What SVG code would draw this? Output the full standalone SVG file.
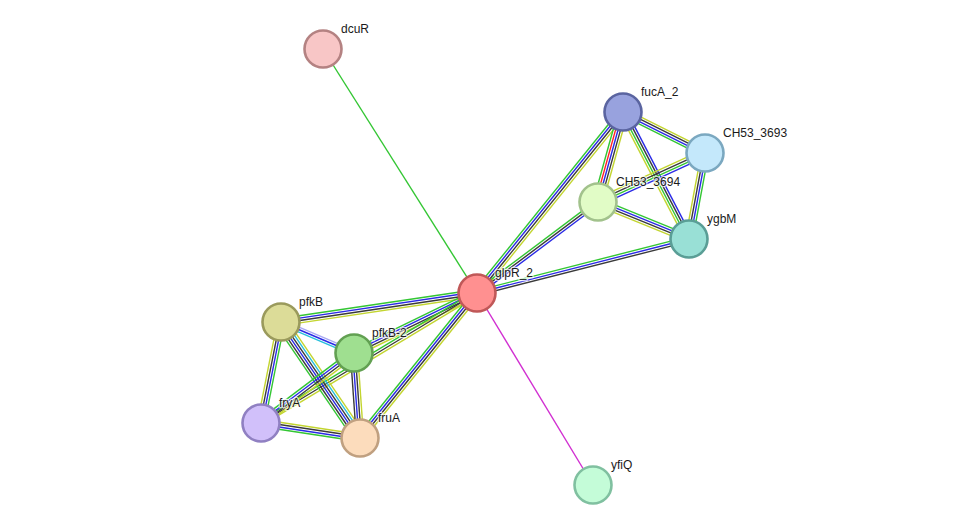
<svg xmlns="http://www.w3.org/2000/svg" width="975" height="530" viewBox="0 0 975 530">
<style>
line{stroke-width:1.4;fill:none}
.g{stroke:#33c633}.b{stroke:#2a2ae6}.k{stroke:#3a3a3a}.y{stroke:#c3d530}.r{stroke:#f22}.c{stroke:#27bfdc}.p{stroke:#a9a9f2}.m{stroke:#d12fd1}
circle{stroke-width:2.6}
text{font-family:"Liberation Sans",Arial,sans-serif;font-size:12px;fill:#1a1a1a;stroke:#fff;stroke-width:2.5;stroke-opacity:0.7;paint-order:stroke;stroke-linejoin:round}
</style>
<rect width="975" height="530" fill="#fff"/>
<g id="connectors">
<line class="g" x1="477" y1="293" x2="323" y2="49"/>
<line class="m" x1="477" y1="293" x2="593" y2="485"/>
<!-- glpR-fucA -->
<g transform="translate(477,293) rotate(-51.1)"><line class="g" x1="0" y1="-3.6" x2="232.5" y2="-3.6"/><line class="b" x1="0" y1="-1.2" x2="232.5" y2="-1.2"/><line class="k" x1="0" y1="1.2" x2="232.5" y2="1.2"/><line class="y" x1="0" y1="3.6" x2="232.5" y2="3.6"/></g>
<!-- glpR-C94 -->
<g transform="translate(477,293) rotate(-36.9)"><line class="g" x1="0" y1="-2.4" x2="151.4" y2="-2.4"/><line class="k" x1="0" y1="0" x2="151.4" y2="0"/><line class="b" x1="0" y1="2.4" x2="151.4" y2="2.4"/></g>
<!-- glpR-ygbM -->
<g transform="translate(477,293) rotate(-14.29)"><line class="g" x1="0" y1="-2.4" x2="218.8" y2="-2.4"/><line class="b" x1="0" y1="0" x2="218.8" y2="0"/><line class="k" x1="0" y1="2.4" x2="218.8" y2="2.4"/></g>
<!-- glpR-pfkB -->
<g transform="translate(477,293) rotate(171.58)"><line class="y" x1="0" y1="-3.6" x2="198.1" y2="-3.6"/><line class="k" x1="0" y1="-1.2" x2="198.1" y2="-1.2"/><line class="b" x1="0" y1="1.2" x2="198.1" y2="1.2"/><line class="g" x1="0" y1="3.6" x2="198.1" y2="3.6"/></g>
<!-- glpR-pfkB2 -->
<g transform="translate(477,293) rotate(154.0)"><line class="y" x1="0" y1="-3.6" x2="136.9" y2="-3.6"/><line class="k" x1="0" y1="-1.2" x2="136.9" y2="-1.2"/><line class="b" x1="0" y1="1.2" x2="136.9" y2="1.2"/><line class="g" x1="0" y1="3.6" x2="136.9" y2="3.6"/></g>
<!-- glpR-fryA -->
<g transform="translate(477,293) rotate(148.96)"><line class="y" x1="0" y1="-2.4" x2="252.1" y2="-2.4"/><line class="k" x1="0" y1="0" x2="252.1" y2="0"/><line class="g" x1="0" y1="2.4" x2="252.1" y2="2.4"/></g>
<!-- glpR-fruA -->
<g transform="translate(477,293) rotate(128.9)"><line class="y" x1="0" y1="-3.6" x2="186.3" y2="-3.6"/><line class="k" x1="0" y1="-1.2" x2="186.3" y2="-1.2"/><line class="b" x1="0" y1="1.2" x2="186.3" y2="1.2"/><line class="g" x1="0" y1="3.6" x2="186.3" y2="3.6"/></g>
<!-- fucA-C94 -->
<g transform="translate(623,112) rotate(105.5)"><line class="y" x1="0" y1="-4.8" x2="93.4" y2="-4.8"/><line class="k" x1="0" y1="-2.4" x2="93.4" y2="-2.4"/><line class="b" x1="0" y1="0" x2="93.4" y2="0"/><line class="r" x1="0" y1="2.4" x2="93.4" y2="2.4"/><line class="g" x1="0" y1="4.8" x2="93.4" y2="4.8"/></g>
<!-- fucA-C93 -->
<g transform="translate(623,112) rotate(26.57)"><line class="y" x1="0" y1="-3.6" x2="91.7" y2="-3.6"/><line class="k" x1="0" y1="-1.2" x2="91.7" y2="-1.2"/><line class="b" x1="0" y1="1.2" x2="91.7" y2="1.2"/><line class="g" x1="0" y1="3.6" x2="91.7" y2="3.6"/></g>
<!-- fucA-ygbM -->
<g transform="translate(623,112) rotate(62.54)"><line class="b" x1="0" y1="-3.6" x2="143.1" y2="-3.6"/><line class="k" x1="0" y1="-1.2" x2="143.1" y2="-1.2"/><line class="g" x1="0" y1="1.2" x2="143.1" y2="1.2"/><line class="y" x1="0" y1="3.6" x2="143.1" y2="3.6"/></g>
<!-- C94-C93 -->
<g transform="translate(598,202) rotate(-24.6)"><line class="y" x1="0" y1="-3.6" x2="117.7" y2="-3.6"/><line class="k" x1="0" y1="-1.2" x2="117.7" y2="-1.2"/><line class="g" x1="0" y1="1.2" x2="117.7" y2="1.2"/><line class="b" x1="0" y1="3.6" x2="117.7" y2="3.6"/></g>
<!-- C93-ygbM -->
<g transform="translate(705,153) rotate(100.5)"><line class="g" x1="0" y1="-3.6" x2="87.5" y2="-3.6"/><line class="b" x1="0" y1="-1.2" x2="87.5" y2="-1.2"/><line class="k" x1="0" y1="1.2" x2="87.5" y2="1.2"/><line class="y" x1="0" y1="3.6" x2="87.5" y2="3.6"/></g>
<!-- C94-ygbM -->
<g transform="translate(598,202) rotate(22.13)"><line class="g" x1="0" y1="-3.6" x2="98.2" y2="-3.6"/><line class="b" x1="0" y1="-1.2" x2="98.2" y2="-1.2"/><line class="k" x1="0" y1="1.2" x2="98.2" y2="1.2"/><line class="y" x1="0" y1="3.6" x2="98.2" y2="3.6"/></g>
<!-- pfkB-pfkB2 -->
<g transform="translate(281,322) rotate(23.0)"><line class="p" x1="0" y1="-2.4" x2="79.3" y2="-2.4"/><line class="b" x1="0" y1="0" x2="79.3" y2="0"/><line class="c" x1="0" y1="2.4" x2="79.3" y2="2.4"/></g>
<!-- pfkB-fryA -->
<g transform="translate(281,322) rotate(101.2)"><line class="g" x1="0" y1="-3.6" x2="103" y2="-3.6"/><line class="b" x1="0" y1="-1.2" x2="103" y2="-1.2"/><line class="k" x1="0" y1="1.2" x2="103" y2="1.2"/><line class="y" x1="0" y1="3.6" x2="103" y2="3.6"/></g>
<!-- pfkB-fruA -->
<g transform="translate(281,322) rotate(55.74)"><line class="y" x1="0" y1="-6" x2="140.3" y2="-6"/><line class="c" x1="0" y1="-3.6" x2="140.3" y2="-3.6"/><line class="k" x1="0" y1="-1.2" x2="140.3" y2="-1.2"/><line class="b" x1="0" y1="1.2" x2="140.3" y2="1.2"/><line class="k" x1="0" y1="3.6" x2="140.3" y2="3.6"/><line class="g" x1="0" y1="6" x2="140.3" y2="6"/></g>
<!-- pfkB2-fryA -->
<g transform="translate(354,353) rotate(143.03)"><line class="y" x1="0" y1="-3.6" x2="116.4" y2="-3.6"/><line class="k" x1="0" y1="-1.2" x2="116.4" y2="-1.2"/><line class="b" x1="0" y1="1.2" x2="116.4" y2="1.2"/><line class="g" x1="0" y1="3.6" x2="116.4" y2="3.6"/></g>
<!-- pfkB2-fruA -->
<g transform="translate(354,353) rotate(85.96)"><line class="y" x1="0" y1="-3.6" x2="85.2" y2="-3.6"/><line class="k" x1="0" y1="-1.2" x2="85.2" y2="-1.2"/><line class="b" x1="0" y1="1.2" x2="85.2" y2="1.2"/><line class="k" x1="0" y1="3.6" x2="85.2" y2="3.6"/></g>
<!-- fryA-fruA -->
<g transform="translate(261,423) rotate(8.62)"><line class="y" x1="0" y1="-3.6" x2="100.1" y2="-3.6"/><line class="k" x1="0" y1="-1.2" x2="100.1" y2="-1.2"/><line class="b" x1="0" y1="1.2" x2="100.1" y2="1.2"/><line class="g" x1="0" y1="3.6" x2="100.1" y2="3.6"/></g>
</g>
<g id="node-dcuR"><circle cx="323" cy="49" r="18.5" fill="#f8c6c6" stroke="#b48282"/><text x="341" y="33">dcuR</text></g>
<g id="node-fucA_2"><circle cx="623" cy="112" r="18.5" fill="#98a2de" stroke="#5a64a0"/><text x="641" y="96">fucA_2</text></g>
<g id="node-CH53_3693"><circle cx="705" cy="153" r="18.5" fill="#c4e8fb" stroke="#7ba8c0"/><text x="723" y="137">CH53_3693</text></g>
<g id="node-CH53_3694"><circle cx="598" cy="202" r="18.5" fill="#e1fcc6" stroke="#a2c28c"/><text x="616" y="186">CH53_3694</text></g>
<g id="node-ygbM"><circle cx="689" cy="239" r="18.5" fill="#99e0d6" stroke="#5a9e96"/><text x="707" y="223">ygbM</text></g>
<g id="node-glpR_2"><circle cx="477" cy="293" r="18.5" fill="#ff9090" stroke="#c05858"/><text x="495" y="277">glpR_2</text></g>
<g id="node-pfkB"><circle cx="281" cy="322" r="18.5" fill="#dcdc98" stroke="#9a9a5c"/><text x="299" y="306">pfkB</text></g>
<g id="node-pfkB-2"><circle cx="354" cy="353" r="18.5" fill="#9fdf90" stroke="#62a052"/><text x="372" y="337">pfkB-2</text></g>
<g id="node-fryA"><circle cx="261" cy="423" r="18.5" fill="#d1c0fa" stroke="#9080c2"/><text x="279" y="407">fryA</text></g>
<g id="node-fruA"><circle cx="360" cy="438" r="18.5" fill="#fcdcbc" stroke="#c0a080"/><text x="378" y="422">fruA</text></g>
<g id="node-yfiQ"><circle cx="593" cy="485" r="18.5" fill="#c4fcd8" stroke="#80c0a0"/><text x="611" y="469">yfiQ</text></g>
</svg>
